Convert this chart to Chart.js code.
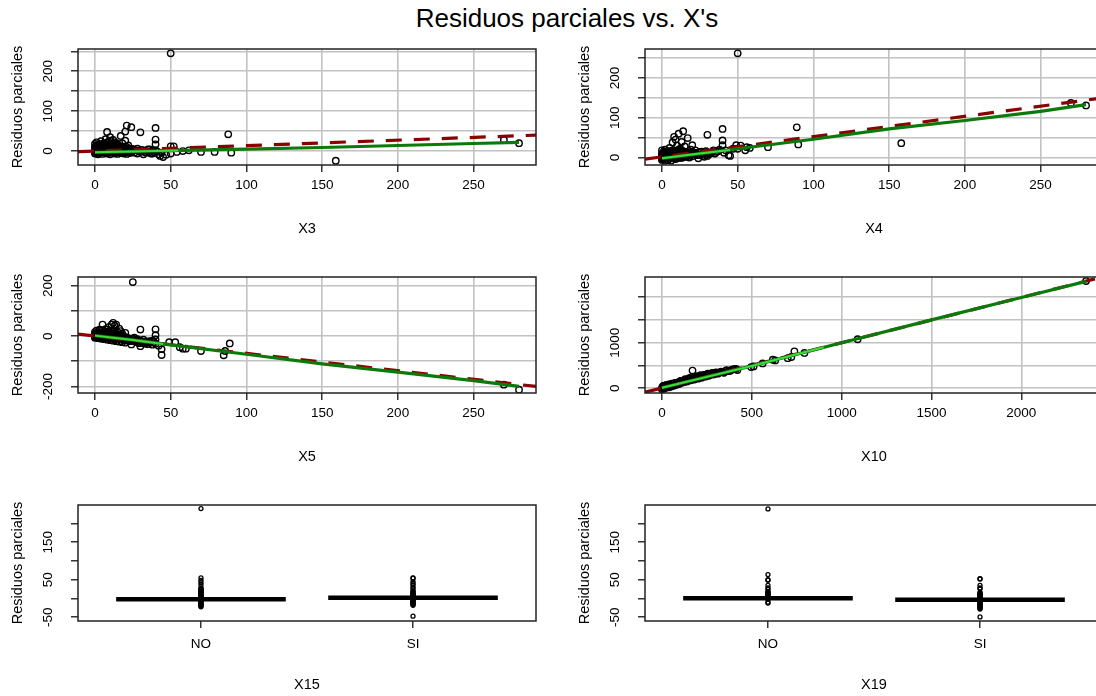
<!DOCTYPE html>
<html lang="es">
<head>
<meta charset="utf-8">
<title>Residuos parciales vs. X's</title>
<script src="https://cdn.jsdelivr.net/npm/chart.js@4.4.1/dist/chart.umd.min.js"></script>
<style>
  html, body { margin: 0; padding: 0; background: #fff; overflow: hidden; }
  body { width: 1096px; height: 696px; position: relative; }
  #titulo { position: absolute; left: 0; top: 3px; width: 1134px; line-height: 30px; text-align: center;
            font: 26px "Liberation Sans", Arial, sans-serif; color: #000; }
  canvas { position: absolute; }
</style>
</head>
<body>
<div id="titulo">Residuos parciales vs. X's</div>
<canvas id="gX3" width="567" height="240" style="left:0;top:0"></canvas>
<canvas id="gX4" width="567" height="240" style="left:567px;top:0"></canvas>
<canvas id="gX5" width="567" height="240" style="left:0;top:228px"></canvas>
<canvas id="gX10" width="567" height="240" style="left:567px;top:228px"></canvas>
<canvas id="gX15" width="567" height="240" style="left:0;top:456px"></canvas>
<canvas id="gX19" width="567" height="240" style="left:567px;top:456px"></canvas>
<script>
// ---- datos: [x, residuo parcial] ----
const puntosX3 = [[0,-6],[0,2],[0,10],[0,18],[1,-3],[1,6],[1,22],[2,-8],[2,1],[2,12],[3,-5],[3,4],[3,15],[4,-2],[4,8],[4,25],
  [5,-7],[5,3],[5,13],[6,-4],[6,6],[6,18],[7,-1],[7,10],[7,30],[8,-6],[8,4],[8,14],[8,48],[9,-3],[9,8],[9,22],[10,-8],[10,2],
  [10,12],[10,35],[11,-4],[11,6],[11,18],[12,-1],[12,9],[12,28],[13,-6],[13,3],[13,14],[14,-3],[14,7],[14,20],[15,-7],[15,1],
  [15,11],[16,-2],[16,8],[17,-5],[17,4],[17,38],[18,-1],[18,10],[19,-6],[19,3],[20,-3],[20,8],[20,26],[20,49],[21,-7],[21,2],
  [21,64],[22,-2],[22,6],[23,-5],[23,3],[24,60],[24,-1],[25,5],[26,-4],[27,2],[28,-6],[28,6],[30,-2],[30,47],[31,3],[32,-8],
  [33,1],[34,-4],[35,4],[36,-2],[37,-6],[38,2],[39,-3],[40,17],[40,29],[40,58],[41,-1],[42,-8],[43,-12],[45,-15],[47,-9],
  [50,245],[50,12],[50,-6],[52,12],[54,-2],[58,0],[62,2],[70,-2],[79,-2],[88,42],[90,-4],[159,-24],[270,28],[280,20],
  [0,6],[0,-2],[1,14],[1,0],[2,6],[2,-4],[3,10],[3,0],[4,3],[4,18],[5,8],[5,-2],[6,12],[6,0],[7,4],[7,16],[8,9],[8,22],
  [9,1],[9,14],[10,6],[10,26],[11,12],[11,0],[12,4],[12,18],[13,8],[13,22],[14,1],[14,12],[15,5],[15,17],[16,3],[16,13],
  [17,0],[17,10],[18,5],[18,20],[19,9],[20,0],[21,10],[22,14],[24,6],[26,3],[29,1],[33,-2],[36,4],[38,-6],[40,2],[44,-4]]
const rectaX3 = [[-11.2,-1.5],[291.2,40]]
const suaveX3 = [[0,-3],[25,-1],[50,1],[75,3],[100,5],[150,9],[200,14],[250,19],[280,22]]
const suaveClaroX3 = [[0,-3],[25,-1],[55,1.5]]

const puntosX4 = [[0,-6],[0,2],[0,10],[0,18],[1,-4],[1,6],[1,14],[2,-8],[2,2],[2,20],[3,-3],[3,8],[4,-6],[4,4],[4,14],[5,0],
  [5,10],[5,24],[6,-8],[6,5],[6,16],[7,-2],[7,9],[7,38],[8,2],[8,14],[8,52],[9,-4],[9,8],[9,45],[10,4],[10,18],[10,30],[11,0],
  [11,12],[11,60],[12,6],[12,22],[13,-1],[13,10],[13,39],[14,4],[14,16],[14,66],[15,8],[15,28],[16,2],[16,14],[17,6],[17,49],
  [18,0],[18,11],[19,7],[19,20],[20,3],[20,14],[20,31],[22,8],[22,18],[24,-2],[24,12],[25,6],[26,15],[27,9],[28,2],[29,16],
  [30,57],[30,4],[30,12],[32,10],[34,18],[36,14],[38,20],[40,72],[40,43],[40,31],[41,12],[42,18],[44,6],[45,4],[47,22],
  [49,31],[50,262],[50,22],[52,30],[55,18],[56,26],[58,24],[70,26],[89,76],[90,33],[158,36],[270,137],[280,131],
  [0,6],[0,-2],[1,10],[1,0],[2,6],[2,14],[3,2],[3,16],[4,10],[4,0],[5,4],[5,16],[6,0],[6,10],[7,4],[7,18],[8,8],[8,-2],
  [9,2],[9,14],[10,10],[10,-2],[11,6],[11,20],[12,0],[12,14],[13,5],[13,18],[14,10],[15,2],[15,14],[16,8],[17,12],[18,4],
  [19,14],[20,8],[21,12],[23,6],[25,14],[27,4],[29,10],[31,8],[33,14],[35,10],[37,16]]
const rectaX4 = [[-11.2,-4],[291.2,150]]
const suaveX4 = [[0,-2],[25,10],[50,22],[100,46],[150,72],[200,93],[250,116],[280,133]]
const suaveClaroX4 = [[0,-2],[25,10],[45,19]]

const puntosX5 = [[0,-2],[0,8],[0,16],[1,-5],[1,4],[1,22],[2,-8],[2,0],[2,12],[3,-4],[3,8],[3,26],[4,-10],[4,2],[4,16],[5,-6],
  [5,6],[5,46],[6,-12],[6,-1],[6,12],[7,-8],[7,4],[7,28],[8,-14],[8,-2],[8,18],[9,-9],[9,6],[9,36],[10,-16],[10,0],[10,22],
  [11,-6],[11,10],[11,46],[12,-18],[12,-4],[12,53],[13,-10],[13,6],[13,42],[14,-20],[14,-2],[14,46],[15,-12],[15,8],[16,-22],
  [16,-6],[16,30],[17,-14],[17,20],[18,-24],[18,-8],[18,10],[19,-16],[20,-26],[20,-4],[20,13],[22,-18],[22,-8],[24,-33],
  [24,-14],[25,215],[26,-20],[26,-6],[28,-24],[28,-12],[30,-40],[30,26],[30,-18],[32,-28],[32,-14],[34,-22],[35,-32],[36,-26],
  [38,-34],[38,-18],[40,27],[40,4],[40,-13],[40,-30],[42,-38],[44,-52],[44,-75],[49,-24],[53,-24],[56,-44],[58,-50],[60,-50],
  [70,-59],[85,-76],[86,-59],[89,-29],[270,-193],[280,-213],
  [0,4],[0,-6],[1,10],[1,-1],[2,6],[2,16],[3,2],[3,-8],[4,8],[4,24],[5,0],[5,14],[6,4],[6,20],[7,-2],[7,12],[8,6],[8,26],
  [9,-2],[9,16],[10,8],[10,-8],[11,2],[11,18],[12,10],[12,-10],[13,-2],[13,20],[14,4],[14,-12],[15,-4],[15,16],[16,0],
  [17,-6],[18,2],[19,-2],[20,-12],[21,-6],[23,-20],[25,-10],[27,-16],[29,-28],[31,-22],[33,-30],[36,-20],[39,-24]]
const rectaX5 = [[-11.2,8],[291.2,-200]]
const suaveX5 = [[0,2],[25,-15],[50,-35],[100,-72],[150,-110],[200,-143],[250,-177],[280,-200]]
const suaveClaroX5 = [[0,2],[25,-15],[45,-31]]

const puntosX10 = [[0,-20],[0,10],[5,40],[10,0],[15,30],[20,60],[25,15],[30,45],[40,20],[45,70],[50,40],[60,90],[65,55],[70,110],
  [80,75],[90,130],[95,95],[100,150],[110,120],[120,170],[125,140],[135,190],[140,150],[150,210],[160,175],[170,389],[175,230],
  [180,190],[190,245],[200,210],[210,260],[220,230],[230,280],[240,255],[250,300],[260,275],[270,320],[285,300],[295,335],
  [310,320],[320,350],[340,350],[355,380],[370,375],[390,410],[412,427],[420,400],[496,465],[510,480],[560,545],[617,626],
  [630,610],[700,660],[720,686],[737,810],[793,775],[1089,1075],[2360,2352],
  [3,20],[8,50],[12,-10],[18,35],[22,70],[28,25],[35,60],[38,85],[48,55],[55,100],[62,70],[75,120],[85,90],[100,110],
  [105,160],[115,140],[130,150],[130,200],[145,175],[155,225],[165,190],[185,215],[195,265],[205,230],[215,285],[225,250],
  [235,295],[245,270],[255,320],[265,290],[280,335],[290,310],[300,350],[315,335],[330,365],[345,340],[360,395],[380,385],[400,420]]
const rectaX10 = [[-94.4,-88],[2454.4,2445]]
const suaveX10 = [[0,10],[250,250],[500,490],[1000,1000],[1500,1500],[2000,1990],[2360,2345]]
const suaveClaroX10 = [[0,10],[250,250],[500,490],[900,898]]

// variables factor: NO / SI
const categorias = ['NO', 'SI']
const cajaX15 = [[-8, 4], [-4, 8]]
const atipicosX15No = [240,55,48,42,36,28,26,24,22,20,18,16,14,12,10,8,6,4,2,0,-2,-4,-6,-8,-10,-12,-14,-16,-18,-20,-22]
const atipicosX15Si = [55,54,45,40,36,30,26,20,18,16,14,12,10,8,6,4,2,0,-2,-4,-6,-8,-10,-12,-14,-16,-18,-47]
const cajaX19 = [[-5, 7], [-9, 3]]
const atipicosX19No = [239,64,50,49,35,28,24,18,16,14,12,10,8,6,4,2,0,-2,-10,-12]
const atipicosX19Si = [53,52,35,28,26,16,14,12,10,8,6,4,2,0,-2,-4,-6,-8,-10,-12,-14,-16,-18,-20,-22,-24,-26,-28,-49]

// ticks de cada eje y cuales llevan etiqueta
const ticksX = [0, 50, 100, 150, 200, 250]
const ticksX10 = [0, 500, 1000, 1500, 2000]
const ticksY34 = [0, 50, 100, 150, 200, 250]
const etiqY34 = [0, 100, 200]
const ticksY5 = [-200, -100, 0, 100, 200]
const etiqY5 = [-200, 0, 200]
const ticksY10 = [0, 500, 1000, 1500, 2000]
const etiqY10 = [0, 1000]
const ticksYFactor = [-50, 0, 50, 100, 150, 200]
const etiqYFactor = [-50, 50, 150]

const fuente = '"Liberation Sans", Arial, sans-serif'
const medidor = document.createElement('canvas').getContext('2d')

// las etiquetas giradas quedan centradas a la misma distancia del eje
const padEje = (etiquetas) => {
  medidor.font = '13.5px ' + fuente
  let ancho = Math.max(...etiquetas.map(t => medidor.measureText(String(t)).width))
  return 23 - ancho / 2
}
const aXY = (pares) => pares.map(([x, y]) => ({x, y}))

const marco = {
  id: 'marco',
  afterDatasetsDraw(chart) {
    const {ctx, chartArea: {left, top, width, height}} = chart
    ctx.save()
    ctx.strokeStyle = '#222'
    ctx.lineWidth = 1.5
    ctx.strokeRect(left, top, width, height)
    ctx.restore()
  }
}

const grilla = (visible) => ({
  display: true, drawOnChartArea: visible, offset: false,
  color: '#c2c2c2', lineWidth: 1.6, tickColor: '#000', tickLength: 7, tickWidth: 1.2
})

const escalaX = (min, max, valores, titulo, texto, conGrilla, sep) => ({
  type: 'linear', position: 'bottom', min, max, offset: false,
  afterBuildTicks: eje => { eje.ticks = valores.map(v => ({value: v})) },
  afterFit: eje => { eje.height = 75 },
  ticks: { color: '#000', font: {family: fuente, size: 13.5}, padding: sep, maxRotation: 0, autoSkip: false, callback: texto },
  grid: grilla(conGrilla),
  border: { display: false },
  title: { display: true, text: titulo, color: '#000', font: {family: fuente, size: 14.5}, padding: {top: 0, bottom: 2} }
})

const escalaY = (min, max, valores, etiquetas, conGrilla) => ({
  type: 'linear', min, max,
  afterBuildTicks: eje => { eje.ticks = valores.map(v => ({value: v})) },
  afterFit: eje => { eje.width = 78 },
  ticks: { color: '#000', font: {family: fuente, size: 13.5}, minRotation: 90, maxRotation: 90, crossAlign: 'center',
           padding: padEje(etiquetas), autoSkip: false, callback: v => etiquetas.includes(v) ? String(v) : '' },
  grid: grilla(conGrilla),
  border: { display: false },
  title: { display: true, text: 'Residuos parciales', color: '#000', font: {family: fuente, size: 14.5}, padding: {top: 9, bottom: 0} }
})

const opcionesBase = (escalas) => ({
  responsive: false, animation: false, events: [],
  layout: { padding: {top: 49, right: 31, bottom: 0, left: 0} },
  plugins: { legend: {display: false}, tooltip: {enabled: false} },
  scales: escalas
})

const crearPanel = (id, d) => {
  new Chart(document.getElementById(id), {
    type: 'scatter',
    data: {
      datasets: [
        { data: aXY(d.claro), showLine: true, borderColor: '#3ddc3d', borderWidth: 2, pointRadius: 0 },
        { data: aXY(d.suave), showLine: true, borderColor: '#0b7a0b', borderWidth: 3.2, pointRadius: 0 },
        { data: aXY(d.recta), showLine: true, borderColor: '#8b0000', borderWidth: 3.2, borderDash: [16, 12], pointRadius: 0 },
        { data: aXY(d.puntos), pointRadius: 3.2, pointBorderWidth: 1.4, pointBorderColor: '#000', pointBackgroundColor: 'rgba(0,0,0,0)' }
      ]
    },
    options: opcionesBase({
      x: escalaX(d.xMin, d.xMax, d.ticksX, d.titulo, v => String(v), true, 5),
      y: escalaY(d.yMin, d.yMax, d.ticksY, d.etiqY, true)
    }),
    plugins: [marco]
  })
}

const crearPanelFactor = (id, d) => {
  let atipicos = [...d.no.map(y => ({x: 0, y})), ...d.si.map(y => ({x: 1, y}))]
  new Chart(document.getElementById(id), {
    type: 'bar',
    data: {
      datasets: [
        { type: 'scatter', data: atipicos, pointRadius: 2, pointBorderWidth: 1.3, pointBorderColor: '#000', pointBackgroundColor: 'rgba(0,0,0,0)' },
        { type: 'bar', data: d.caja.map((c, i) => ({x: i, y: c})), backgroundColor: '#000', borderWidth: 0,
          barPercentage: 0.8, categoryPercentage: 1 }
      ]
    },
    options: opcionesBase({
      x: escalaX(-0.58, 1.58, [0, 1], d.titulo, v => categorias[v], false, 8),
      y: escalaY(-60, 249.5, ticksYFactor, etiqYFactor, false)
    }),
    plugins: [marco]
  })
}

crearPanel('gX3', { puntos: puntosX3, recta: rectaX3, suave: suaveX3, claro: suaveClaroX3, titulo: 'X3',
  xMin: -11.2, xMax: 291.2, yMin: -34.8, yMax: 255.8, ticksX: ticksX, ticksY: ticksY34, etiqY: etiqY34 })
crearPanel('gX4', { puntos: puntosX4, recta: rectaX4, suave: suaveX4, claro: suaveClaroX4, titulo: 'X4',
  xMin: -11.2, xMax: 291.2, yMin: -18.8, yMax: 272.8, ticksX: ticksX, ticksY: ticksY34, etiqY: etiqY34 })
crearPanel('gX5', { puntos: puntosX5, recta: rectaX5, suave: suaveX5, claro: suaveClaroX5, titulo: 'X5',
  xMin: -11.2, xMax: 291.2, yMin: -226, yMax: 235, ticksX: ticksX, ticksY: ticksY5, etiqY: etiqY5 })
crearPanel('gX10', { puntos: puntosX10, recta: rectaX10, suave: suaveX10, claro: suaveClaroX10, titulo: 'X10',
  xMin: -94.4, xMax: 2454.4, yMin: -104, yMax: 2441, ticksX: ticksX10, ticksY: ticksY10, etiqY: etiqY10 })
crearPanelFactor('gX15', { caja: cajaX15, no: atipicosX15No, si: atipicosX15Si, titulo: 'X15' })
crearPanelFactor('gX19', { caja: cajaX19, no: atipicosX19No, si: atipicosX19Si, titulo: 'X19' })
</script>
</body>
</html>
